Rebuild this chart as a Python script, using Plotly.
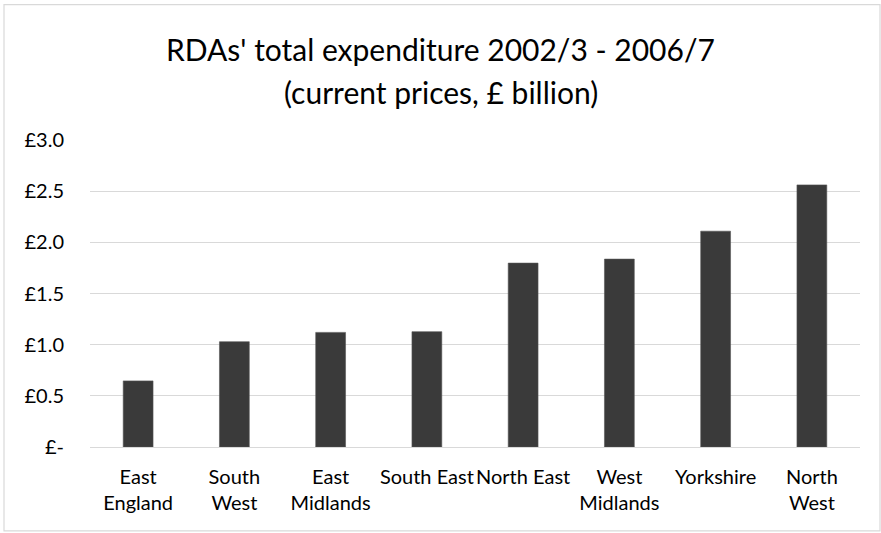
import plotly.graph_objects as go

# Regional Development Agencies: total spend 2002/3 - 2006/7 (current prices, £bn)
regions = ["East England", "South West", "East Midlands", "South East",
           "North East", "West Midlands", "Yorkshire", "North West"]
region_labels = ["East<br>England", "South<br>West", "East<br>Midlands", "South East",
                 "North East", "West<br>Midlands", "Yorkshire", "North<br>West"]
expenditure = [0.646, 1.029, 1.12, 1.127, 1.797, 1.836, 2.109, 2.561]

y_ticks = [0, 0.5, 1.0, 1.5, 2.0, 2.5, 3.0]
y_tick_labels = ["£-", "£0.5", "£1.0", "£1.5", "£2.0", "£2.5", "£3.0"]

W, H = 881, 533
ML, MR, MT, MB = 90, 21, 140, 85.5
plot_w = W - ML - MR
plot_h = H - MT - MB

FONT = "Lato"
GRID = "#d9d9d9"

fig = go.Figure(
    go.Bar(
        x=regions,
        y=expenditure,
        width=0.31,
        marker=dict(color="#3a3a3a", line=dict(color="#555555", width=0.6)),
        hoverinfo="x+y",
    )
)

# outer chart frame
fig.add_shape(
    type="rect", xref="paper", yref="paper",
    x0=(4 - ML) / plot_w, x1=(880 - ML) / plot_w,
    y0=-(531.5 - (H - MB)) / plot_h, y1=((H - MB) - 4.5) / plot_h,
    line=dict(color=GRID, width=1.2), fillcolor="rgba(0,0,0,0)", layer="below",
)

# chart title, two lines centred on the whole chart
title_lines = [("RDAs' total expenditure 2002/3 - 2006/7", 49),
               ("(current prices, £ billion)", 92)]
for line_text, centre_px in title_lines:
    fig.add_annotation(
        text=line_text,
        xref="paper", yref="paper",
        x=(W / 2 - ML) / plot_w, xanchor="center",
        y=((H - MB) - centre_px) / plot_h, yanchor="middle",
        showarrow=False, align="center",
        font=dict(family=FONT, size=30, color="#000000"),
    )

fig.update_layout(
    width=W, height=H,
    margin=dict(l=ML, r=MR, t=MT, b=MB, pad=0),
    paper_bgcolor="white", plot_bgcolor="white",
    showlegend=False,
    font=dict(family=FONT, color="#000000"),
    xaxis=dict(
        tickmode="array", tickvals=regions, ticktext=region_labels,
        tickfont=dict(family=FONT, size=20, color="#000000"),
        showgrid=False, showline=False, zeroline=False, ticks="",
        ticklabelstandoff=16,
    ),
    yaxis=dict(
        range=[0, 3.0], tickmode="array", tickvals=y_ticks, ticktext=y_tick_labels,
        tickfont=dict(family=FONT, size=20, color="#000000"),
        showgrid=True, gridcolor=GRID, gridwidth=1.2,
        zeroline=True, zerolinecolor=GRID, zerolinewidth=1.2,
        showline=False, ticks="", ticklabelstandoff=25,
    ),
)

fig.write_html("out.html")
